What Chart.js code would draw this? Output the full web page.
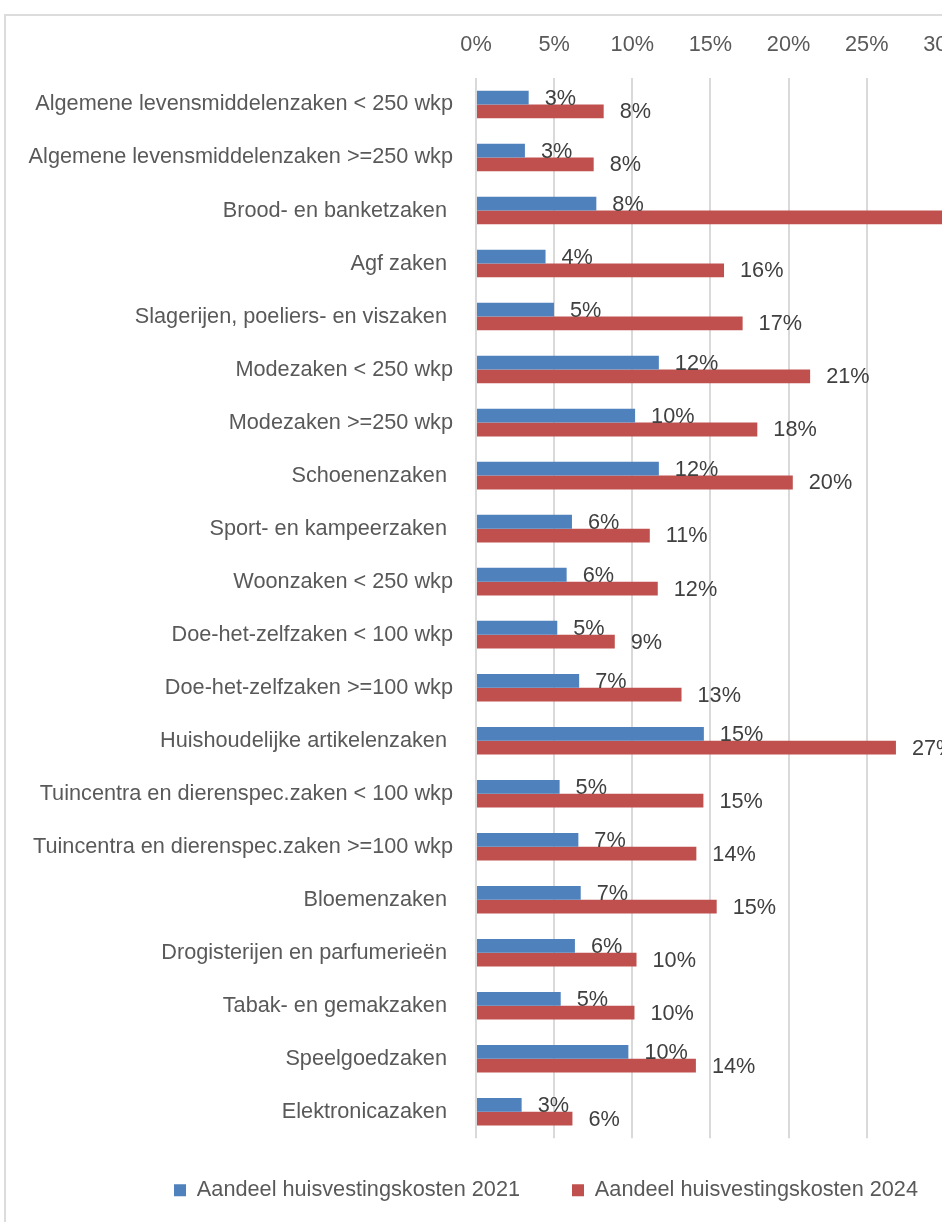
<!DOCTYPE html>
<html>
<head>
<meta charset="utf-8">
<script src="https://cdn.jsdelivr.net/npm/chart.js@4.4.1/dist/chart.umd.min.js"></script>
<style>
  html, body { margin: 0; padding: 0; background: #ffffff; overflow: hidden; width: 942px; height: 1222px; }
  #frame { position: absolute; left: 4px; top: 14px; width: 1200px; height: 1300px; border: 2px solid #dcdcdc; box-sizing: border-box; }
  #c { position: absolute; left: 0; top: 0; }
</style>
</head>
<body>
<div id="frame"></div>
<canvas id="c" width="1092" height="1222"></canvas>
<script>
const categories = [
  "Algemene levensmiddelenzaken < 250 wkp",
  "Algemene levensmiddelenzaken >=250 wkp",
  "Brood- en banketzaken ",
  "Agf zaken ",
  "Slagerijen, poeliers- en viszaken ",
  "Modezaken < 250 wkp",
  "Modezaken >=250 wkp",
  "Schoenenzaken ",
  "Sport- en kampeerzaken ",
  "Woonzaken < 250 wkp",
  "Doe-het-zelfzaken < 100 wkp",
  "Doe-het-zelfzaken >=100 wkp",
  "Huishoudelijke artikelenzaken ",
  "Tuincentra en dierenspec.zaken < 100 wkp",
  "Tuincentra en dierenspec.zaken >=100 wkp",
  "Bloemenzaken ",
  "Drogisterijen en parfumerieën ",
  "Tabak- en gemakzaken ",
  "Speelgoedzaken ",
  "Elektronicazaken "
];
const series2021Label = "Aandeel huisvestingskosten 2021";
const series2024Label = "Aandeel huisvestingskosten 2024";
const values2021 = [3.37, 3.13, 7.7, 4.45, 4.99, 11.7, 10.18, 11.7, 6.14, 5.8, 5.2, 6.6, 14.58, 5.35, 6.55, 6.7, 6.33, 5.42, 9.75, 2.92];
const values2024 = [8.17, 7.53, 33.0, 15.87, 17.06, 21.38, 18.0, 20.27, 11.12, 11.63, 8.88, 13.15, 26.87, 14.55, 14.1, 15.4, 10.27, 10.14, 14.07, 6.17];
const xTickMin = 0;
const xTickMax = 35;
const xTickStep = 5;

const FONT = "'Liberation Sans', Arial, sans-serif";
const FS = 21.7;

const dataLabelPlugin = {
  id: 'dataLabels',
  afterDatasetsDraw(chart) {
    const ctx = chart.ctx;
    ctx.save();
    ctx.font = FS + 'px ' + FONT;
    ctx.fillStyle = '#404040';
    ctx.textAlign = 'left';
    ctx.textBaseline = 'middle';
    chart.data.datasets.forEach((ds, di) => {
      const meta = chart.getDatasetMeta(di);
      meta.data.forEach((el, i) => {
        const v = ds.data[i];
        ctx.fillText(Math.round(v) + '%', el.x + 16, el.y + 1);
      });
    });
    ctx.restore();
  }
};

// the legend is centred on the whole chart (including the margin right of the plot)
const legendShift = {
  id: 'legendShift',
  afterLayout(chart) {
    const lg = chart.legend;
    if (lg) {
      lg.top -= 11; lg.bottom -= 11;
      lg.left += 34.5; lg.right += 34.5;
    }
  }
};

Chart.defaults.font.family = FONT;
Chart.defaults.font.size = FS;
Chart.defaults.color = '#595959';

new Chart(document.getElementById('c'), {
  type: 'bar',
  data: {
    labels: categories,
    datasets: [
      { label: series2021Label, data: values2021, backgroundColor: '#4F81BD', borderWidth: 0, categoryPercentage: 0.52, barPercentage: 1.0 },
      { label: series2024Label, data: values2024, backgroundColor: '#C0504D', borderWidth: 0, categoryPercentage: 0.52, barPercentage: 1.0 }
    ]
  },
  options: {
    indexAxis: 'y',
    responsive: false,
    animation: false,
    devicePixelRatio: 1,
    layout: { padding: { left: 0, right: 69, top: 0, bottom: 0 } },
    scales: {
      x: {
        position: 'top',
        min: xTickMin,
        max: xTickMax,
        grid: { color: '#d9d9d9', lineWidth: 2, drawTicks: false },
        border: { display: false },
        ticks: { stepSize: xTickStep, padding: 20, color: '#595959', font: { size: FS }, callback: v => v + '%' },
        afterFit(scale) { scale.height = 78; }
      },
      y: {
        grid: { display: false, drawTicks: false },
        border: { display: false },
        ticks: { padding: 23, autoSkip: false, color: '#595959', font: { size: FS } },
        afterFit(scale) { scale.width = 476; }
      }
    },
    plugins: {
      legend: {
        position: 'bottom',
        labels: { boxWidth: 12, boxHeight: 12, padding: 52, color: '#595959', font: { size: FS } }
      },
      tooltip: { enabled: false }
    }
  },
  plugins: [dataLabelPlugin, legendShift]
});
</script>
</body>
</html>
